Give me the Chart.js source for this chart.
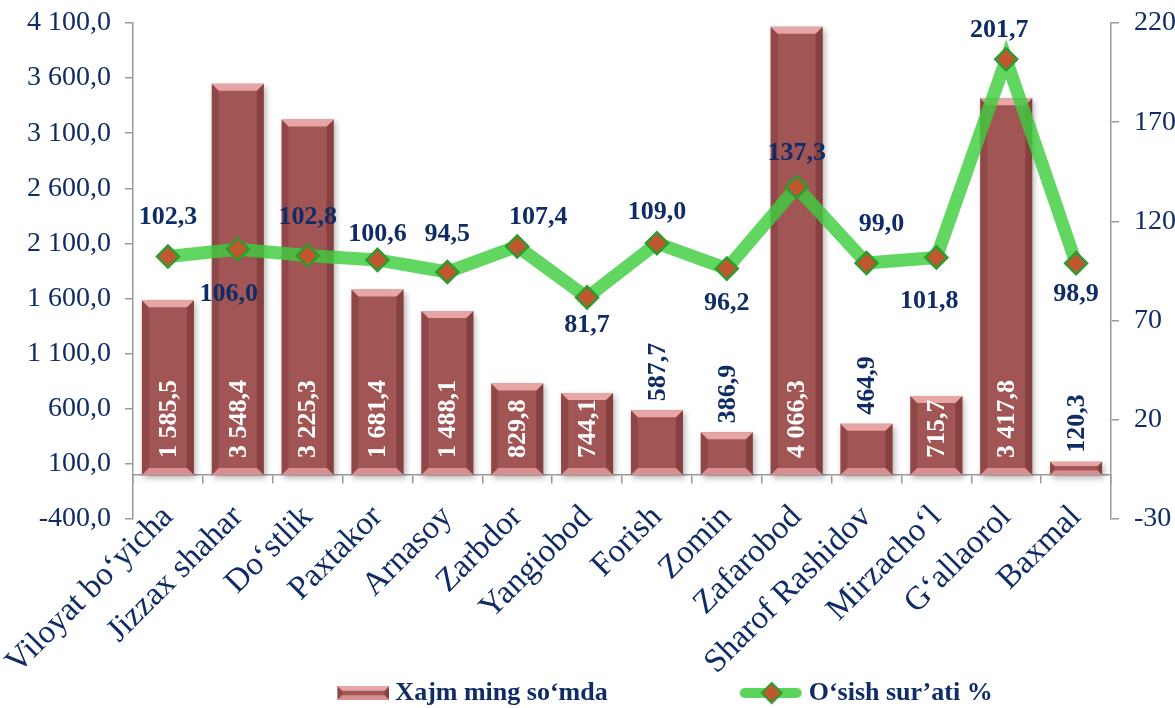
<!DOCTYPE html>
<html>
<head>
<meta charset="utf-8">
<script src="https://cdn.jsdelivr.net/npm/chart.js@4.4.0/dist/chart.umd.min.js"></script>
<style>
  html, body { margin: 0; padding: 0; background: #fff; }
</style>
</head>
<body>
<canvas id="volumeChart" width="1175" height="708"></canvas>
<script>
// data
const districts = ['Viloyat bo‘yicha', 'Jizzax shahar', 'Do‘stlik', 'Paxtakor', 'Arnasoy', 'Zarbdor', 'Yangiobod',
  'Forish', 'Zomin', 'Zafarobod', 'Sharof Rashidov', 'Mirzacho‘l', 'G‘allaorol', 'Baxmal'];
const volume = [1585.5, 3548.4, 3225.3, 1681.4, 1488.1, 829.8, 744.1, 587.7, 386.9, 4066.3, 464.9, 715.7, 3417.8, 120.3];
const growth = [102.3, 106.0, 102.8, 100.6, 94.5, 107.4, 81.7, 109.0, 96.2, 137.3, 99.0, 101.8, 201.7, 98.9];
const leftTicks = [-400, 100, 600, 1100, 1600, 2100, 2600, 3100, 3600, 4100];
const rightTicks = [-30, 20, 70, 120, 170, 220];

const navy = '#102C66';
const serif = '"Liberation Serif", "Times New Roman", serif';
const axisGray = '#9a9a9a';

function fmt(v, digits) {
  const parts = Math.abs(v).toFixed(digits).split('.');
  const int = parts[0].replace(/\B(?=(\d{3})+(?!\d))/g, ' ');
  return (v < 0 ? '-' : '') + int + (parts[1] ? ',' + parts[1] : '');
}

function poly(ctx, pts, color) {
  ctx.beginPath();
  ctx.moveTo(pts[0][0], pts[0][1]);
  for (let i = 1; i < pts.length; i++) ctx.lineTo(pts[i][0], pts[i][1]);
  ctx.closePath();
  ctx.fillStyle = color;
  ctx.fill();
}

function bevel(ctx, l, t, r, b) {
  const e = Math.min(7, (b - t) / 3);
  poly(ctx, [[l, t], [l + e, t + e], [l + e, b - e], [l, b]], 'rgba(110,45,45,0.35)');
  poly(ctx, [[r, t], [r - e, t + e], [r - e, b - e], [r, b]], 'rgba(100,40,40,0.45)');
  poly(ctx, [[l, t], [r, t], [r - e, t + e], [l + e, t + e]], 'rgba(250,185,185,0.8)');
  poly(ctx, [[l, b], [r, b], [r - e, b - e], [l + e, b - e]], 'rgba(245,175,175,0.65)');
}

// legend swatches, drawn at the right end of a wide transparent canvas
const SW = 202;
function makeSwatch(kind) {
  const c = document.createElement('canvas');
  c.width = SW; c.height = 30;
  const g = c.getContext('2d');
  if (kind === 'bar') {
    const l = SW - 52, t = 8, r = SW, b = 22;
    g.fillStyle = '#A25555';
    g.fillRect(l, t, r - l, b - t);
    bevel(g, l, t, r, b);
  } else {
    g.strokeStyle = 'rgba(62,205,62,0.85)';
    g.lineWidth = 10;
    g.lineCap = 'round';
    g.beginPath(); g.moveTo(SW - 58, 15); g.lineTo(SW - 6, 15); g.stroke();
    const cx = SW - 31;
    g.beginPath();
    g.moveTo(cx, 5); g.lineTo(cx + 10, 15); g.lineTo(cx, 25); g.lineTo(cx - 10, 15); g.closePath();
    g.fillStyle = '#C0572F'; g.fill();
    g.lineWidth = 2; g.strokeStyle = '#2E9B2E'; g.stroke();
  }
  return c;
}
const swatches = [makeSwatch('bar'), makeSwatch('line')];

const barLook = {
  id: 'barLook',
  beforeDatasetDraw(chart, args) {
    if (args.index !== 0) return;
    const ctx = chart.ctx;
    ctx.save();
    ctx.shadowColor = 'rgba(0,0,0,0.3)';
    ctx.shadowBlur = 6;
    ctx.shadowOffsetX = 2;
    ctx.shadowOffsetY = 3;
  },
  afterDatasetDraw(chart, args) {
    if (args.index !== 0) return;
    const ctx = chart.ctx;
    ctx.restore();
    args.meta.data.forEach(bar => {
      const l = bar.x - bar.width / 2, r = bar.x + bar.width / 2;
      bevel(ctx, l, Math.min(bar.y, bar.base), r, Math.max(bar.y, bar.base));
    });
  }
};

const valueLabels = {
  id: 'valueLabels',
  afterDatasetsDraw(chart, args, opts) {
    const ctx = chart.ctx;
    ctx.save();
    ctx.font = 'bold 26px ' + serif;
    ctx.textBaseline = 'middle';

    // bar values, vertical
    ctx.textAlign = 'left';
    chart.getDatasetMeta(0).data.forEach((bar, i) => {
      const txt = fmt(volume[i], 1);
      const w = ctx.measureText(txt).width;
      const inside = w + 17 <= bar.base - bar.y;
      ctx.save();
      ctx.translate(bar.x, inside ? bar.base - 17 : bar.y - 9);
      ctx.rotate(-Math.PI / 2);
      ctx.fillStyle = inside ? '#ffffff' : navy;
      ctx.fillText(txt, 0, 1);
      ctx.restore();
    });

    // growth values
    ctx.textAlign = 'center';
    ctx.fillStyle = navy;
    chart.getDatasetMeta(1).data.forEach((pt, i) => {
      ctx.fillText(fmt(growth[i], 1), pt.x + opts.dx[i], pt.y + opts.dy[i]);
    });
    ctx.restore();
  }
};

const ctx = document.getElementById('volumeChart').getContext('2d');

const volumeChart = new Chart(ctx, {
  type: 'bar',
  data: {
    labels: districts,
    datasets: [{
      type: 'bar',
      label: 'Xajm ming so‘mda',
      data: volume,
      xAxisID: 'x',
      yAxisID: 'y',
      backgroundColor: '#A25555',
      barPercentage: 0.745,
      categoryPercentage: 1,
      order: 2
    }, {
      type: 'line',
      label: 'O‘sish sur’ati %',
      data: growth,
      xAxisID: 'x',
      yAxisID: 'y1',
      borderColor: 'rgba(62,205,62,0.82)',
      borderWidth: 13,
      tension: 0,
      pointStyle: 'rectRot',
      pointRadius: 11,
      pointBackgroundColor: '#C0572F',
      pointBorderColor: '#2E9B2E',
      pointBorderWidth: 2.5,
      order: 1
    }]
  },
  options: {
    responsive: false,
    animation: false,
    layout: { padding: { top: 23, left: 12, right: 0, bottom: -8 } },
    scales: {
      // bottom axis only reserves room under the plot
      x: {
        position: 'bottom',
        offset: true,
        grid: { display: false },
        border: { display: false },
        ticks: { display: false },
        afterFit(s) { s.height = 161; s.paddingLeft = 0; s.paddingRight = 0; }
      },
      // category axis drawn on the zero line, with the names
      x2: {
        type: 'category',
        position: { y: 0 },
        offset: true,
        grid: { offset: true, drawOnChartArea: false, tickLength: 8, color: axisGray, lineWidth: 1.5 },
        border: { color: axisGray, width: 1.5 },
        ticks: {
          autoSkip: false,
          minRotation: 45,
          maxRotation: 45,
          padding: 15,
          color: navy,
          font: { family: serif, size: 33 }
        },
        afterFit(s) { s.height = 0; s.paddingLeft = 0; s.paddingRight = 0; }
      },
      y: {
        position: 'left',
        min: -400,
        max: 4100,
        grid: { drawOnChartArea: false, tickLength: 8, color: axisGray, lineWidth: 1.5 },
        border: { color: axisGray, width: 1.5 },
        afterBuildTicks(s) { s.ticks = leftTicks.map(v => ({ value: v })); },
        ticks: {
          padding: 14,
          color: navy,
          font: { family: serif, size: 28 },
          callback: v => fmt(v, 1)
        },
        afterFit(s) { s.width = 121; s.paddingTop = 0; s.paddingBottom = 0; }
      },
      y1: {
        position: 'right',
        min: -30,
        max: 220,
        grid: { drawOnChartArea: false, tickLength: 8, color: axisGray, lineWidth: 1.5 },
        border: { color: axisGray, width: 1.5 },
        afterBuildTicks(s) { s.ticks = rightTicks.map(v => ({ value: v })); },
        ticks: {
          padding: 15,
          color: navy,
          font: { family: serif, size: 28 },
          callback: v => String(v)
        },
        afterFit(s) { s.width = 64; s.paddingTop = 0; s.paddingBottom = 0; }
      }
    },
    plugins: {
      tooltip: { enabled: false },
      legend: {
        position: 'bottom',
        labels: {
          usePointStyle: true,
          pointStyleWidth: SW - 14,
          padding: 0,
          color: navy,
          font: { family: serif, size: 26, weight: 'bold' },
          generateLabels(chart) {
            return chart.data.datasets.map((ds, i) => ({
              text: ds.label,
              pointStyle: swatches[i],
              datasetIndex: i,
              fontColor: navy,
              hidden: false,
              lineWidth: 0,
              strokeStyle: 'rgba(0,0,0,0)',
              fillStyle: 'rgba(0,0,0,0)'
            }));
          }
        }
      },
      valueLabels: {
        dx: [0, -9, 0, 0, 0, 21, 0, 0, 0, 0, 15, -7, -7, 0],
        dy: [-39, 45, -38, -26, -38, -29, 28, -31, 35, -34, -39, 44, -29, 31]
      }
    }
  },
  plugins: [barLook, valueLabels]
});
</script>
</body>
</html>
